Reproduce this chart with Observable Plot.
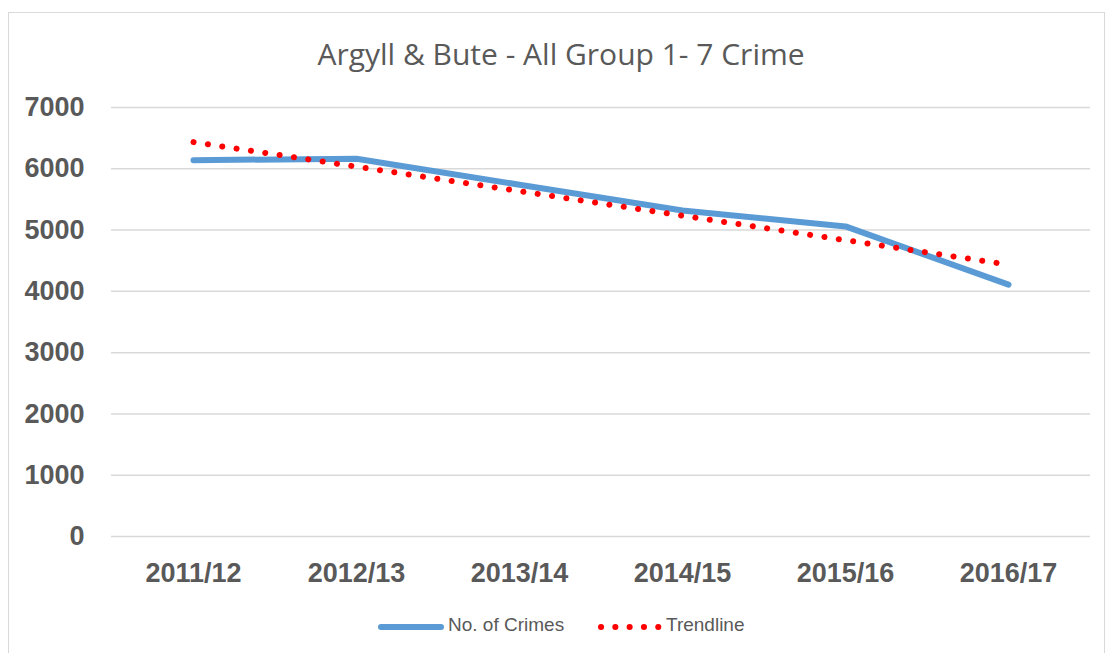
<!DOCTYPE html>
<html>
<head>
<meta charset="utf-8">
<script src="https://cdn.jsdelivr.net/npm/d3@7"></script>
<script src="https://cdn.jsdelivr.net/npm/@observablehq/plot@0.6"></script>
<style>
  html, body { margin: 0; padding: 0; background: #fff; }
  #wrap { position: relative; width: 1109px; height: 653px; overflow: hidden; font-family: "Liberation Sans", Arial, sans-serif; }
  #frame { position: absolute; left: 8px; top: 12px; width: 1097px; height: 680px; border: 1px solid #d9d9d9; box-sizing: border-box; }
  #title { position: absolute; left: 0; width: 1122px; top: 33px; text-align: center; font-family: "Open Sans", sans-serif; font-size: 30px; color: #595959; white-space: nowrap; }
  #chart { position: absolute; left: 0; top: 0; }
  .leg { position: absolute; top: 614px; font-size: 19px; color: #595959; white-space: nowrap; }
  .leg svg { position: absolute; }
</style>
</head>
<body>
<div id="wrap">
  <div id="frame"></div>
  <div id="title">Argyll &amp; Bute - All Group 1- 7 Crime</div>
  <div id="chart"></div>
  <div class="leg" id="leg1" style="left:378px;"></div>
  <div class="leg" id="leg2" style="left:597px;"></div>
</div>
<script>
const years = ["2011/12", "2012/13", "2013/14", "2014/15", "2015/16", "2016/17"];
const crimes = [6140, 6165, 5740, 5320, 5060, 4110];
const trend = [6435, 6035, 5635, 5235, 4835, 4435];
const yTicks = [0, 1000, 2000, 3000, 4000, 5000, 6000, 7000];
const seriesNames = ["No. of Crimes", "Trendline"];
const colors = ["#5b9bd5", "#ff0000"];

const crimeData = years.map((y, i) => ({year: y, value: crimes[i]}));
const trendData = years.map((y, i) => ({year: y, value: trend[i]}));

const chart = Plot.plot({
  width: 1109,
  height: 600,
  marginLeft: 111,
  marginRight: 19,
  marginTop: 107,
  marginBottom: 64,
  style: {background: "transparent", color: "#595959", overflow: "visible"},
  x: {type: "point", domain: years, padding: 0.5, label: null},
  y: {domain: [0, 7000], label: null},
  marks: [
    Plot.gridY(yTicks, {stroke: "#d9d9d9", strokeOpacity: 1, strokeWidth: 1.5}),
    Plot.axisY(yTicks, {tickSize: 0, tickPadding: 27, fontSize: 27, fontWeight: "bold", fill: "#595959", label: null, tickFormat: d => String(d)}),
    Plot.axisX({tickSize: 0, tickPadding: 26, fontSize: 27, fontWeight: "bold", fill: "#595959", label: null}),
    Plot.line(crimeData, {x: "year", y: "value", stroke: colors[0], strokeWidth: 6, strokeLinecap: "round", strokeLinejoin: "round", curve: "linear"}),
    Plot.line(trendData, {x: "year", y: "value", stroke: colors[1], strokeWidth: 6, strokeLinecap: "round", strokeDasharray: "0.1 14.4"})
  ]
});
chart.style.fontFamily = '"Liberation Sans", Arial, sans-serif';
document.getElementById("chart").appendChild(chart);

document.getElementById("leg1").innerHTML =
  `<svg width="66" height="10" style="left:0;top:8px"><line x1="3" y1="5" x2="63" y2="5" stroke="${colors[0]}" stroke-width="6" stroke-linecap="round"/></svg>` +
  `<span style="position:absolute;left:70px;top:0">${seriesNames[0]}</span>`;
document.getElementById("leg2").innerHTML =
  `<svg width="66" height="10" style="left:0;top:8px"><line x1="4" y1="5" x2="62" y2="5" stroke="${colors[1]}" stroke-width="6" stroke-linecap="round" stroke-dasharray="0.1 14.2"/></svg>` +
  `<span style="position:absolute;left:69px;top:0">${seriesNames[1]}</span>`;
</script>
</body>
</html>
